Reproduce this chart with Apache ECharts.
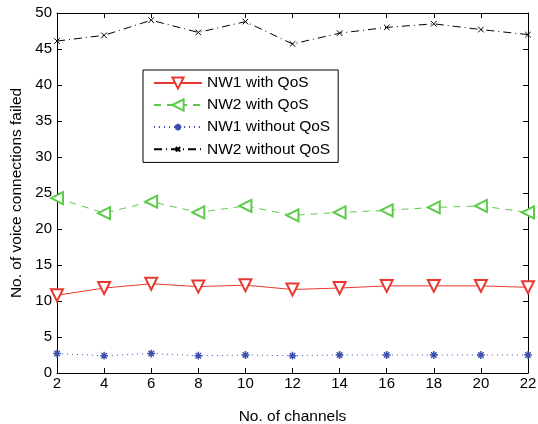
<!DOCTYPE html>
<html><head><meta charset="utf-8">
<script src="https://cdn.jsdelivr.net/npm/echarts@6/dist/echarts.min.js"></script>
<style>html,body{margin:0;padding:0;background:#fff}#c{width:538px;height:424px}</style>
</head><body><div id="c"></div>
<script>
const channels = [2,4,6,8,10,12,14,16,18,20,22];
const nw1WithQoS = [10.8,11.8,12.4,12.0,12.2,11.6,11.8,12.1,12.1,12.1,11.9];
const nw2WithQoS = [24.3,22.2,23.8,22.3,23.2,21.9,22.3,22.6,23.0,23.2,22.3];
const nw1WithoutQoS = [2.7,2.4,2.7,2.4,2.5,2.4,2.5,2.5,2.5,2.5,2.5];
const nw2WithoutQoS = [46.1,46.9,49.0,47.3,48.8,45.7,47.2,48.0,48.5,47.7,47.0];
const names = ['NW1 with QoS','NW2 with QoS','NW1 without QoS','NW2 without QoS'];

const pair = arr => channels.map((c,i)=>[c,arr[i]]);
const font = 'Liberation Sans, Arial, sans-serif';
const xPath = 'path://M0,0M20,20M6,6L14,14M14,6L6,14';
const starPath = 'path://M0,0M20,20M10,4L10,16M4,10L16,10M5.8,5.8L14.2,14.2M14.2,5.8L5.8,14.2';

const chart = echarts.init(document.getElementById('c'), null, {renderer:'canvas'});
const axisCommon = {
  axisLine:{show:true,onZero:false,lineStyle:{color:'#000',width:1}},
  axisTick:{show:true,inside:true,length:5,lineStyle:{color:'#000'}},
  splitLine:{show:false}
};
chart.setOption({
  animation:false,
  grid:{left:57,right:10,top:13,bottom:51,outerBoundsMode:'none',containLabel:false},
  legend:{
    orient:'vertical', left:143, top:70,
    backgroundColor:'#fff', borderColor:'#000', borderWidth:1,
    padding:[5,8,5,10], itemGap:6, itemWidth:48, itemHeight:14,
    textStyle:{fontFamily:font,fontSize:15.5,color:'#000'},
    data:names
  },
  xAxis:[
    Object.assign({type:'value',min:2,max:22,interval:2,position:'bottom',
      name:'No. of channels',nameLocation:'middle',nameGap:36,
      nameTextStyle:{fontFamily:font,fontSize:15.5,color:'#000'},
      axisLabel:{fontFamily:font,fontSize:15,color:'#000',margin:3}},axisCommon),
    Object.assign({type:'value',min:2,max:22,interval:2,position:'top',
      axisLabel:{show:false}},axisCommon)
  ],
  yAxis:[
    Object.assign({type:'value',min:0,max:50,interval:5,position:'left',
      name:'No. of voice connections failed',nameLocation:'middle',nameGap:32,
      nameTextStyle:{fontFamily:font,fontSize:15.5,color:'#000'},
      axisLabel:{fontFamily:font,fontSize:15,color:'#000',margin:5}},axisCommon),
    Object.assign({type:'value',min:0,max:50,interval:5,position:'right',
      axisLabel:{show:false}},axisCommon)
  ],
  series:[
    {name:names[0],type:'line',data:pair(nw1WithQoS),symbol:'emptyTriangle',symbolRotate:180,symbolSize:12,
      lineStyle:{color:'#e8382f',width:1},itemStyle:{color:'#e8382f',borderWidth:1.2}},
    {name:names[1],type:'line',data:pair(nw2WithQoS),symbol:'emptyTriangle',symbolRotate:90,symbolSize:12,
      lineStyle:{color:'#5ccb4a',width:1,type:[7,6]},itemStyle:{color:'#5ccb4a',borderWidth:1.2}},
    {name:names[2],type:'line',data:pair(nw1WithoutQoS),symbol:starPath,symbolSize:13,
      lineStyle:{color:'#3d4fae',width:1,type:[1,4]},itemStyle:{color:'none',borderColor:'#3d4fae',borderWidth:1.5}},
    {name:names[3],type:'line',data:pair(nw2WithoutQoS),symbol:xPath,symbolSize:14,
      lineStyle:{color:'#000',width:1,type:[8,4,1,4]},itemStyle:{color:'none',borderColor:'#000',borderWidth:1}}
  ]
});
</script></body></html>
